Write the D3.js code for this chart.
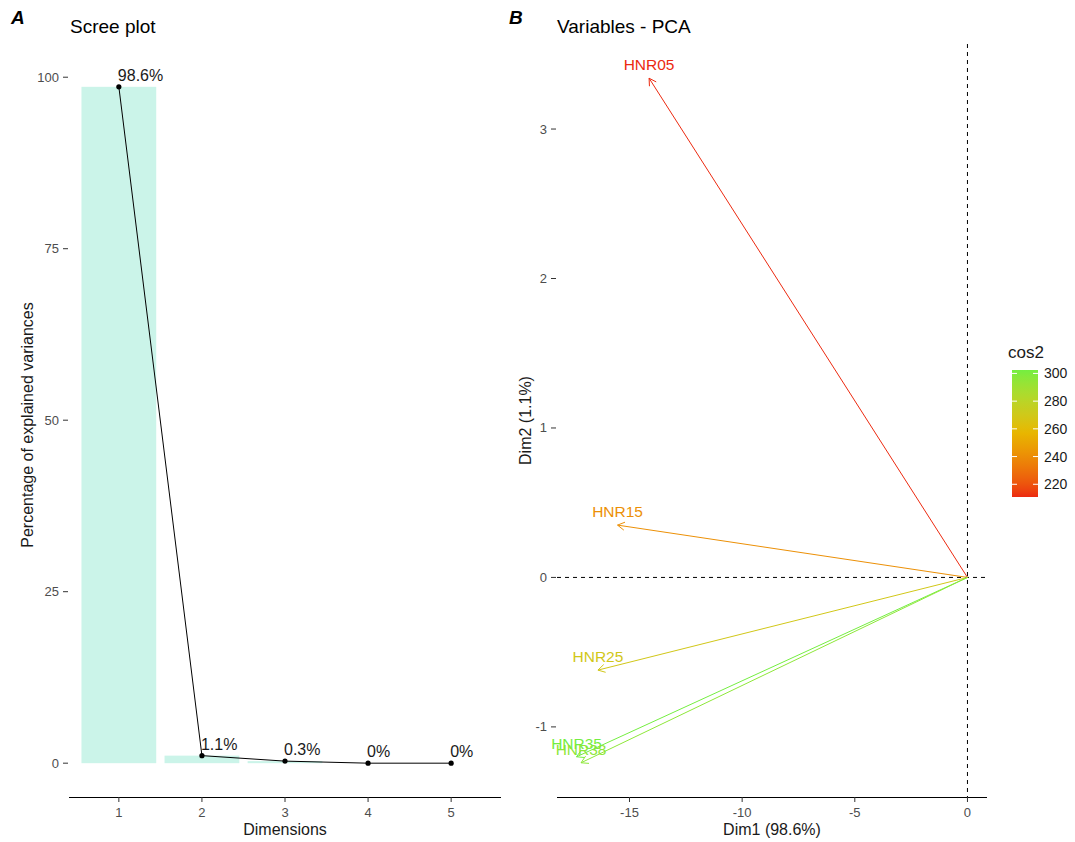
<!DOCTYPE html>
<html>
<head>
<meta charset="utf-8">
<script src="https://cdn.jsdelivr.net/npm/d3@7"></script>
<style>
  body { margin: 0; background: #fff; }
  svg { font-family: "Liberation Sans", Arial, sans-serif; }
</style>
</head>
<body>
<svg id="chart" width="1075" height="842"></svg>
<script>
// scree plot data
var dims = [1, 2, 3, 4, 5],
	eig = [98.6, 1.1, 0.3, 0, 0],
	eigTicks = [0, 25, 50, 75, 100];

// variables - PCA data
var varNames = ["HNR05", "HNR15", "HNR25", "HNR35", "HNR38"],
	dim1 = [-14.13, -15.53, -16.40, -17.35, -17.15],
	dim2 = [3.34, 0.35, -0.62, -1.20, -1.24],
	dim1Ticks = [-15, -10, -5, 0],
	dim2Ticks = [-1, 0, 1, 2, 3];

var legendTicks = [220, 240, 260, 280, 300];

var svg = d3.select("#chart");
var grey = "#4d4d4d", dark = "#1a1a1a";

// ---------- panel A ----------
// discrete axis: expansion 0.6 on each side
var xA = d3.scaleLinear().domain([0.4, 5.6]).range([69, 501]);
var stepA = xA(2) - xA(1);
var yA = d3.scaleLinear().domain([-0.05 * d3.max(eig), d3.max(eig) * 1.05]).range([797, 53]);

var gA = svg.append("g");

gA.selectAll("rect.bar")
	.data(dims)
	.enter()
	.append("rect")
	.attr("class", "bar")
	.attr("x", function (d) { return xA(d) - 0.45 * stepA; })
	.attr("width", 0.9 * stepA)
	.attr("y", function (d, i) { return yA(eig[i]); })
	.attr("height", function (d, i) { return yA(0) - yA(eig[i]); })
	.attr("fill", "#cbf4e9");

var line = d3.line()
	.x(function (d) { return xA(d); })
	.y(function (d, i) { return yA(eig[i]); });

gA.append("path")
	.datum(dims)
	.attr("d", line)
	.attr("fill", "none")
	.attr("stroke", "#000")
	.attr("stroke-width", 1);

gA.selectAll("circle")
	.data(dims)
	.enter()
	.append("circle")
	.attr("cx", function (d) { return xA(d); })
	.attr("cy", function (d, i) { return yA(eig[i]); })
	.attr("r", 2.6)
	.attr("fill", "#000");

gA.selectAll("text.lab")
	.data(dims)
	.enter()
	.append("text")
	.attr("class", "lab")
	.attr("x", function (d) { return xA(d) - 1; })
	.attr("y", function (d, i) { return yA(eig[i]) - 6; })
	.attr("font-size", "16px")
	.attr("fill", dark)
	.text(function (d, i) { return eig[i] + "%"; });

// x axis
gA.append("line").attr("x1", 69).attr("x2", 501).attr("y1", 797.5).attr("y2", 797.5).attr("stroke", "#000");
dims.forEach(function (d) {
	gA.append("line").attr("x1", xA(d)).attr("x2", xA(d)).attr("y1", 797).attr("y2", 802).attr("stroke", "#333");
	gA.append("text").attr("x", xA(d)).attr("y", 817).attr("text-anchor", "middle")
		.attr("font-size", "13px").attr("fill", grey).text(d);
});
// y axis
eigTicks.forEach(function (t) {
	gA.append("line").attr("x1", 63).attr("x2", 68).attr("y1", yA(t)).attr("y2", yA(t)).attr("stroke", "#333");
	gA.append("text").attr("x", 59).attr("y", yA(t) + 4.5).attr("text-anchor", "end")
		.attr("font-size", "13px").attr("fill", grey).text(t);
});
gA.append("text").attr("x", (69 + 501) / 2).attr("y", 835).attr("text-anchor", "middle")
	.attr("font-size", "16px").attr("fill", dark).text("Dimensions");
gA.append("text").attr("transform", "translate(33," + (53 + 797) / 2 + ") rotate(-90)")
	.attr("text-anchor", "middle").attr("font-size", "16px").attr("fill", dark)
	.text("Percentage of explained variances");
gA.append("text").attr("x", 70).attr("y", 33).attr("font-size", "19px").attr("fill", "#000").text("Scree plot");
gA.append("text").attr("x", 11).attr("y", 24).attr("font-size", "19px").attr("font-weight", "bold")
	.attr("font-style", "italic").attr("fill", "#000").text("A");

// ---------- panel B ----------
var xmin = d3.min(dim1.concat([0])), xmax = d3.max(dim1.concat([0])),
	ymin = d3.min(dim2.concat([0])), ymax = d3.max(dim2.concat([0]));
var xB = d3.scaleLinear()
	.domain([xmin - 0.05 * (xmax - xmin), xmax + 0.05 * (xmax - xmin)])
	.range([557, 987]);
var yB = d3.scaleLinear()
	.domain([ymin - 0.05 * (ymax - ymin), ymax + 0.05 * (ymax - ymin)])
	.range([797, 44]);

var cos2 = varNames.map(function (d, i) { return dim1[i] * dim1[i] + dim2[i] * dim2[i]; });
var cmin = d3.min(cos2), cmax = d3.max(cos2), cmid = 258;
var color = d3.scaleLinear()
	.domain([cmin, cmid, cmax])
	.range(["#ec2a10", "#e7b800", "#74ee40"])
	.interpolate(d3.interpolateLab);

var gB = svg.append("g");

// dashed reference lines
gB.append("line").attr("x1", 557).attr("x2", 987).attr("y1", yB(0)).attr("y2", yB(0))
	.attr("stroke", "#000").attr("stroke-dasharray", "4,4");
gB.append("line").attr("x1", xB(0)).attr("x2", xB(0)).attr("y1", 44).attr("y2", 797)
	.attr("stroke", "#000").attr("stroke-dasharray", "4,4");

varNames.forEach(function (name, i) {
	var c = color(cos2[i]);
	var x0 = xB(0), y0 = yB(0), x1 = xB(dim1[i]), y1 = yB(dim2[i]);
	gB.append("line").attr("x1", x0).attr("y1", y0).attr("x2", x1).attr("y2", y1)
		.attr("stroke", c).attr("stroke-width", 1);
	var ang = Math.atan2(y0 - y1, x0 - x1), len = 8, spread = Math.PI / 6;
	var pts = [
		[x1 + len * Math.cos(ang + spread), y1 + len * Math.sin(ang + spread)],
		[x1, y1],
		[x1 + len * Math.cos(ang - spread), y1 + len * Math.sin(ang - spread)]
	];
	gB.append("polyline").attr("points", pts.map(function (p) { return p.join(","); }).join(" "))
		.attr("fill", "none").attr("stroke", c).attr("stroke-width", 1);
	gB.append("text").attr("x", x1).attr("y", y1 - 8).attr("text-anchor", "middle")
		.attr("font-size", "15.5px").attr("fill", c).text(name);
});

// axes
gB.append("line").attr("x1", 557).attr("x2", 987).attr("y1", 797.5).attr("y2", 797.5).attr("stroke", "#000");
dim1Ticks.forEach(function (t) {
	gB.append("line").attr("x1", xB(t)).attr("x2", xB(t)).attr("y1", 797).attr("y2", 802).attr("stroke", "#333");
	gB.append("text").attr("x", xB(t)).attr("y", 817).attr("text-anchor", "middle")
		.attr("font-size", "13px").attr("fill", grey).text(t);
});
dim2Ticks.forEach(function (t) {
	gB.append("line").attr("x1", 551).attr("x2", 556).attr("y1", yB(t)).attr("y2", yB(t)).attr("stroke", "#333");
	gB.append("text").attr("x", 547).attr("y", yB(t) + 4.5).attr("text-anchor", "end")
		.attr("font-size", "13px").attr("fill", grey).text(t);
});
gB.append("text").attr("x", (557 + 987) / 2).attr("y", 835).attr("text-anchor", "middle")
	.attr("font-size", "16px").attr("fill", dark).text("Dim1 (98.6%)");
gB.append("text").attr("transform", "translate(531," + (44 + 797) / 2 + ") rotate(-90)")
	.attr("text-anchor", "middle").attr("font-size", "16px").attr("fill", dark).text("Dim2 (1.1%)");
gB.append("text").attr("x", 557).attr("y", 33).attr("font-size", "19px").attr("fill", "#000").text("Variables - PCA");
gB.append("text").attr("x", 509).attr("y", 24).attr("font-size", "19px").attr("font-weight", "bold")
	.attr("font-style", "italic").attr("fill", "#000").text("B");

// legend
var legTop = 370, legBot = 497, legX = 1012, legW = 26;
var lg = svg.append("defs").append("linearGradient").attr("id", "cosgrad")
	.attr("x1", 0).attr("y1", 1).attr("x2", 0).attr("y2", 0);
d3.range(0, 1.0001, 0.05).forEach(function (f) {
	lg.append("stop").attr("offset", f).attr("stop-color", color(cmin + f * (cmax - cmin)));
});
var yL = d3.scaleLinear().domain([cmin, cmax]).range([legBot, legTop]);
svg.append("rect").attr("x", legX).attr("y", legTop).attr("width", legW).attr("height", legBot - legTop)
	.attr("fill", "url(#cosgrad)");
legendTicks.forEach(function (t) {
	svg.append("line").attr("x1", legX).attr("x2", legX + 5).attr("y1", yL(t)).attr("y2", yL(t)).attr("stroke", "#fff");
	svg.append("line").attr("x1", legX + legW - 5).attr("x2", legX + legW).attr("y1", yL(t)).attr("y2", yL(t)).attr("stroke", "#fff");
	svg.append("text").attr("x", legX + legW + 6).attr("y", yL(t) + 5).attr("font-size", "14px")
		.attr("fill", dark).text(t);
});
svg.append("text").attr("x", 1008).attr("y", 358).attr("font-size", "17px").attr("fill", dark).text("cos2");
</script>
</body>
</html>
